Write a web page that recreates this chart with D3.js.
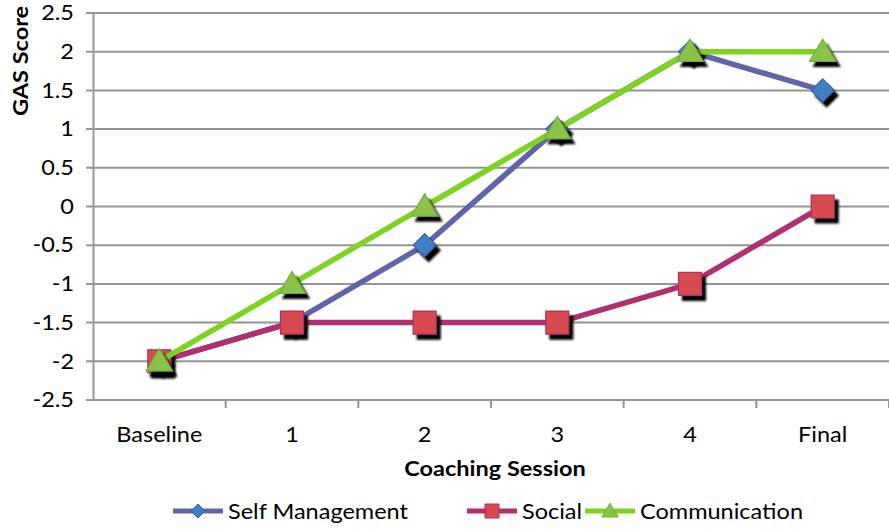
<!DOCTYPE html>
<html><head><meta charset="utf-8">
<script src="https://cdn.jsdelivr.net/npm/d3@7"></script>
<style>body{margin:0;background:#fff}svg{display:block}text{font-family:Lato,"Open Sans",sans-serif;fill:#000}</style>
</head><body><svg id="c" width="889" height="529"></svg>
<script>
const categories = ["Baseline","1","2","3","4","Final"];
const selfManagement = [-2,-1.5,-0.5,1,2,1.5];
const social = [-2,-1.5,-1.5,-1.5,-1,0];
const communication = [-2,-1,0,1,2,2];
const yTicks = [-2.5,-2,-1.5,-1,-0.5,0,0.5,1,1.5,2,2.5];
const seriesNames = ["Self Management","Social","Communication"];

const series = [
  {name:seriesNames[0], values:selfManagement, line:"#6264a8", fill:"#3f7fc4", stroke:"#3a5fa0", shape:"diamond"},
  {name:seriesNames[1], values:social, line:"#b02f6e", fill:"#d9484e", stroke:"#a83060", shape:"square"},
  {name:seriesNames[2], values:communication, line:"#7ed321", fill:"#8bc34a", stroke:"#74b03a", shape:"triangle"}
];

const SX = 1.12, FS = 21;
const svg = d3.select("#c");
const x = d3.scaleBand().domain(categories).range([93,889]);
const y = d3.scaleLinear().domain([-2.5,2.5]).range([400,13]);

const defs = svg.append("defs");
const f = defs.append("filter").attr("id","sh").attr("x","-50%").attr("y","-50%").attr("width","200%").attr("height","200%");
f.append("feGaussianBlur").attr("in","SourceAlpha").attr("stdDeviation",1.3).attr("result","b");
f.append("feOffset").attr("in","b").attr("dx",4).attr("dy",5).attr("result","o");
const fm = f.append("feMerge"); fm.append("feMergeNode").attr("in","o"); fm.append("feMergeNode").attr("in","SourceGraphic");

// gridlines
svg.append("g").selectAll("line").data(yTicks).join("line")
  .attr("x1",86).attr("x2",889).attr("y1",d=>y(d)).attr("y2",d=>y(d))
  .attr("stroke","#959595").attr("stroke-width",2);

// y axis
const ya = svg.append("g").attr("transform","translate(93,0)")
  .call(d3.axisLeft(y).tickValues(yTicks).tickSize(0).tickPadding(18).tickFormat(d=>String(d)));
ya.select(".domain").attr("stroke","#959595").attr("stroke-width",2);
ya.selectAll("text").attr("font-size",FS).attr("font-family","Lato")
  .attr("x",-19/SX).attr("transform",`scale(${SX},1)`);

// x axis
const xa = svg.append("g").attr("transform","translate(0,400)")
  .call(d3.axisBottom(x).tickSize(0).tickPadding(27));
xa.select(".domain").remove();
xa.selectAll(".tick").each(function(){
  const t = d3.select(this).select("text");
  t.attr("font-size",FS).attr("font-family","Lato").attr("transform",`scale(${SX},1)`);
});
const bounds = categories.map(c=>x(c)).concat([x.range()[1]]);
svg.append("g").selectAll("line").data(bounds.slice(1)).join("line")
  .attr("x1",d=>d).attr("x2",d=>d).attr("y1",400).attr("y2",408)
  .attr("stroke","#959595").attr("stroke-width",2);

svg.append("text").attr("transform",`translate(28,61) rotate(-90) scale(${SX},1)`).attr("text-anchor","middle")
  .attr("font-size",FS).attr("font-weight","bold").text("GAS Score");
svg.append("text").attr("transform",`translate(495,476) scale(${SX},1)`).attr("text-anchor","middle")
  .attr("font-size",FS).attr("font-weight","bold").text("Coaching Session");

const cx = c => x(c)+x.bandwidth()/2;
const line = d3.line().x((d,i)=>cx(categories[i])).y(d=>y(d));

function shapePath(shape, s){
  if(shape==="diamond") return `M0,${-s}L${s},0L0,${s}L${-s},0Z`;
  if(shape==="square") return `M${-s},${-s}H${s}V${s}H${-s}Z`;
  return `M0,${-s*1.05}L${s*1.1},${s*0.8}L${-s*1.1},${s*0.8}Z`;
}
const sizes = {diamond:11.5, square:11.5, triangle:12};

series.forEach(s=>{
  const g = svg.append("g");
  g.append("path").datum(s.values).attr("d",line).attr("fill","none")
    .attr("stroke",s.line).attr("stroke-width",5.5).attr("stroke-linejoin","round");
  g.append("g").attr("filter","url(#sh)").selectAll("path").data(s.values).join("path")
    .attr("transform",(d,i)=>`translate(${cx(categories[i])},${y(d)})`)
    .attr("d",shapePath(s.shape,sizes[s.shape]))
    .attr("fill",s.fill).attr("stroke",s.stroke).attr("stroke-width",1.2);
});

// legend
const legendX = [173,467,585];
const lg = svg.append("g");
series.forEach((s,i)=>{
  const g = lg.append("g").attr("transform",`translate(${legendX[i]},511)`);
  g.append("line").attr("x1",0).attr("x2",50).attr("y1",0).attr("y2",0).attr("stroke",s.line).attr("stroke-width",5);
  g.append("path").attr("transform","translate(25,0)").attr("d",shapePath(s.shape,s.shape==="triangle"?7.5:7))
    .attr("fill",s.fill).attr("stroke",s.stroke).attr("stroke-width",1);
  g.append("text").attr("transform",`translate(55,7.5) scale(${SX},1)`).attr("font-size",FS).text(s.name);
});
</script></body></html>
